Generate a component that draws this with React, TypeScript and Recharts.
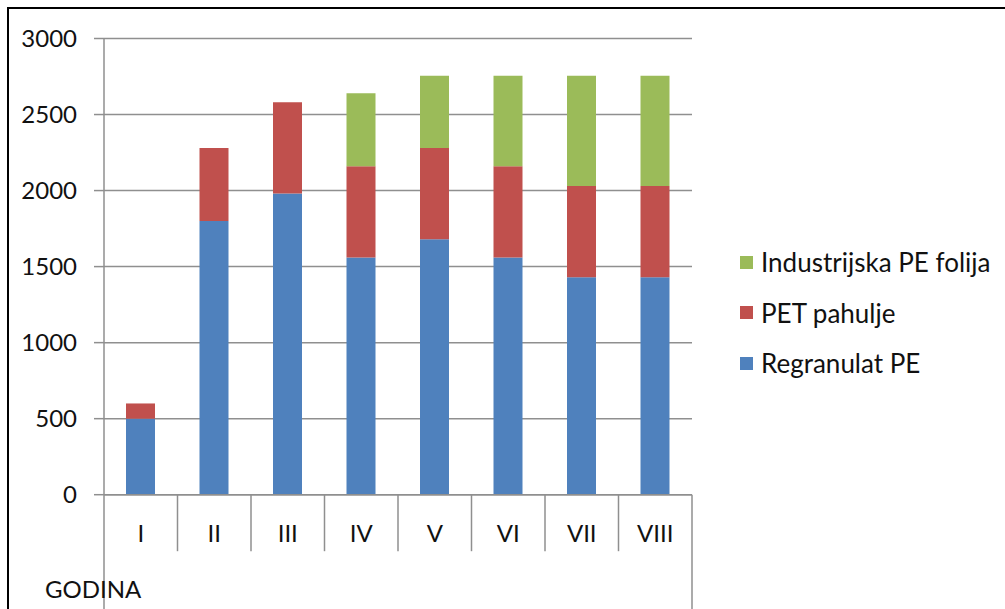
import { BarChart, Bar, XAxis, YAxis, CartesianGrid, Legend } from 'recharts';

const categories = ['I', 'II', 'III', 'IV', 'V', 'VI', 'VII', 'VIII'];
const regranulatPE = [500, 1800, 1980, 1560, 1680, 1560, 1430, 1430];
const petPahulje = [100, 480, 600, 600, 600, 600, 600, 600];
const industrijskaFolija = [0, 0, 0, 480, 475, 595, 725, 725];
const yTicks = [0, 500, 1000, 1500, 2000, 2500, 3000];

const series = [
  { key: 'regranulat', name: 'Regranulat PE', color: '#4F81BD', values: regranulatPE },
  { key: 'pet', name: 'PET pahulje', color: '#C0504D', values: petPahulje },
  { key: 'folija', name: 'Industrijska PE folija', color: '#9BBB59', values: industrijskaFolija },
];

const data = categories.map((c, i) => ({
  godina: c,
  regranulat: regranulatPE[i],
  pet: petPahulje[i],
  folija: industrijskaFolija[i],
}));

const W = 1005;
const H = 609;
const margin = { top: 38.5, right: 313, left: 0, bottom: 0 };
const yAxisWidth = 104;
const xAxisHeight = 114.3;
const plotWidth = W - margin.left - margin.right - yAxisWidth;
const band = plotWidth / categories.length;

const FONT = 'Lato, "Noto Sans", sans-serif';
const GRAY = '#8f8f8f';

function CategoryTick(props: any) {
  const { x, y, payload, index } = props;
  const last = index === categories.length - 1;
  const left = x - band / 2;
  const right = x + band / 2;
  return (
    <g>
      {index === 0 && (
        <line x1={left} y1={y} x2={left} y2={H} stroke={GRAY} strokeWidth={1.5} />
      )}
      <line
        x1={right}
        y1={y}
        x2={right}
        y2={last ? H : y + 56.5}
        stroke={GRAY}
        strokeWidth={1.5}
      />
      <text x={x} y={y + 47} textAnchor="middle" fontSize={24} fontFamily={FONT} fill="#111">
        {payload.value}
      </text>
    </g>
  );
}

function LegendBox() {
  const items = [...series].reverse();
  return (
    <div style={{ fontFamily: FONT, fontSize: 26, color: '#111', textAlign: 'left' }}>
      {items.map((s) => (
        <div key={s.key} style={{ display: 'flex', alignItems: 'center', height: 50.5 }}>
          <span
            style={{ width: 13, height: 13, background: s.color, display: 'inline-block', marginRight: 8 }}
          />
          <span style={{ whiteSpace: 'nowrap' }}>{s.name}</span>
        </div>
      ))}
    </div>
  );
}

export default function App() {
  return (
    <div style={{ position: 'absolute', left: 0, top: 0, width: W, height: H, background: '#fff' }}>
      <div
        style={{
          position: 'absolute',
          left: 7,
          top: 7,
          right: 0,
          bottom: 0,
          borderLeft: '2px solid #000',
          borderTop: '2px solid #000',
        }}
      />
      <BarChart width={W} height={H} data={data} margin={margin} barSize={29}>
        <CartesianGrid vertical={false} stroke={GRAY} strokeWidth={1.5} />
        <XAxis
          dataKey="godina"
          height={xAxisHeight}
          axisLine={{ stroke: GRAY, strokeWidth: 1.5 }}
          tickLine={false}
          tickSize={0}
          tickMargin={0}
          interval={0}
          tick={<CategoryTick />}
        />
        <YAxis
          width={yAxisWidth}
          domain={[0, 3000]}
          ticks={yTicks}
          axisLine={{ stroke: GRAY, strokeWidth: 1.5 }}
          tickLine={{ stroke: GRAY, strokeWidth: 1.5 }}
          tickSize={10}
          tickMargin={17}
          tick={{ fontSize: 24, fontFamily: FONT, fill: '#111' }}
        />
        <Legend
          layout="horizontal"
          verticalAlign="middle"
          align="center"
          content={<LegendBox />}
          wrapperStyle={{ left: 740, top: 237, width: 265 }}
        />
        {series.map((s) => (
          <Bar
            key={s.key}
            dataKey={s.key}
            name={s.name}
            stackId="a"
            fill={s.color}
            isAnimationActive={false}
          />
        ))}
      </BarChart>
      <div
        style={{
          position: 'absolute',
          left: 45,
          top: 574,
          fontFamily: FONT,
          fontSize: 24,
          color: '#111',
        }}
      >
        GODINA
      </div>
    </div>
  );
}
